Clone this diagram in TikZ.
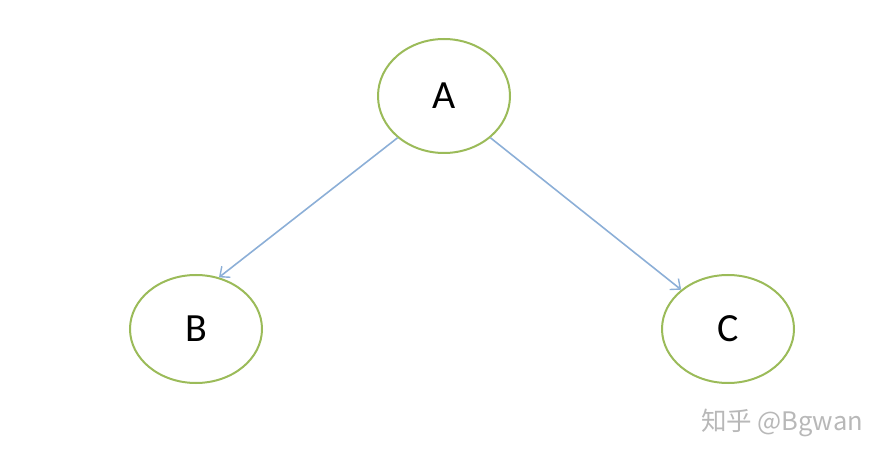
\documentclass[tikz,border=0pt]{standalone}
\usepackage{fontspec}
\setmainfont{Carlito}
\newfontfamily\cjk{Noto Sans CJK SC}
\usetikzlibrary{positioning,arrows.meta,shapes.geometric}
\definecolor{nodegreen}{RGB}{155,187,89}
\definecolor{edgeblue}{RGB}{140,175,215}
\tikzset{
  net/.style={x=1pt,y=-1pt,
    every node/.style={font=\fontsize{40}{40}\selectfont},
    var/.style={ellipse,draw=nodegreen,line width=2pt,minimum width=132pt,minimum height=108pt,inner sep=0pt},
    dep/.style={-{Straight Barb[length=8pt,width=14pt,line width=1.4pt]},draw=edgeblue,line width=1.6pt}},
}
\begin{document}
\begin{tikzpicture}[net]
  \useasboundingbox (0,0) rectangle (892,462);
  \node[var,minimum height=114pt] (A) at (444,96) {A};
  \node[var] (B) at (196,329) {B};
  \node[var] (C) at (728,329) {C};
  \draw[dep] (A.222) -- (B.66);
  \draw[dep] (A.318) -- (C.140);
  \node[font=\cjk\fontsize{25.5}{25.5}\selectfont,text=black!28] (mark) at (782,423) {知乎 @Bgwan};
\end{tikzpicture}
\end{document}
